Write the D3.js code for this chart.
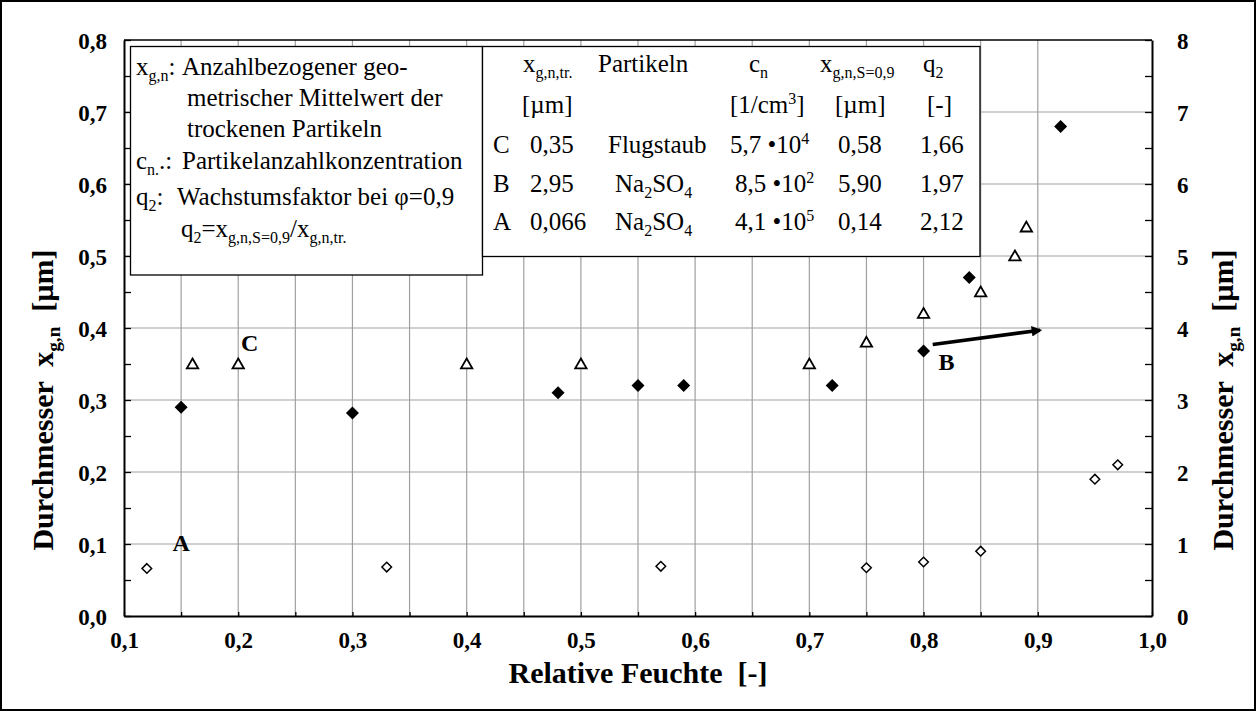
<!DOCTYPE html>
<html><head><meta charset="utf-8">
<script src="https://cdn.jsdelivr.net/npm/d3@7"></script>
<style>html,body{margin:0;padding:0;background:#fff}svg{display:block}svg text{white-space:pre}</style>
</head><body>
<svg id="c" width="1256" height="711"></svg>
<script>
// ---- data ----
const xTickVals = [0.1,0.2,0.3,0.4,0.5,0.6,0.7,0.8,0.9,1.0];
const yLeftTickVals = [0,0.1,0.2,0.3,0.4,0.5,0.6,0.7,0.8];
const yRightTickVals = [0,1,2,3,4,5,6,7,8];
// C: Flugstaub (triangles, left axis)
const rhC = [0.16,0.20,0.40,0.50,0.70,0.75,0.80,0.85,0.88,0.89];
const dC  = [0.35,0.35,0.35,0.35,0.35,0.38,0.42,0.45,0.50,0.54];
// B: Na2SO4 coarse (filled diamonds, right axis)
const rhB = [0.15,0.30,0.48,0.55,0.59,0.72,0.80,0.84,0.92];
const dB  = [2.90,2.82,3.10,3.20,3.20,3.20,3.68,4.70,6.80];
// A: Na2SO4 fine (open diamonds, left axis)
const rhA = [0.12,0.33,0.57,0.75,0.80,0.85,0.95,0.97];
const dA  = [0.066,0.068,0.069,0.067,0.075,0.090,0.19,0.21];
// series labels
const seriesLabels = ["A","B","C"];
const labelRH = [0.15,0.82,0.21];
const labelD  = [0.101,0.353,0.379];
// arrow for B (left-axis units)
const arrowRH = [0.808,0.902];
const arrowD  = [0.377,0.397];
// table
const tableIds   = ["C","B","A"];
const tableXtr   = ["0,35","2,95","0,066"];
const tableMat   = ["Flugstaub","Na2SO4","Na2SO4"];
const tableCnM   = ["5,7","8,5","4,1"];
const tableCnE   = ["4","2","5"];
const tableXs    = ["0,58","5,90","0,14"];
const tableQ2    = ["1,66","1,97","2,12"];

const SERIF = "'Liberation Serif','Times New Roman',serif";
const svg = d3.select("#c");
const W=1256,H=711;
const L=124,R=1152,T=40,B=616;
const x  = d3.scaleLinear().domain([0.1,1.0]).range([L,R]);
const yL = d3.scaleLinear().domain([0,0.8]).range([B,T]);
const yR = d3.scaleLinear().domain([0,8]).range([B,T]);
const comma = d => d3.format(".1f")(d).replace(".",",");

// outer border
svg.append("rect").attr("x",1).attr("y",1).attr("width",W-2).attr("height",H-2)
  .attr("fill","#fff").attr("stroke","#000").attr("stroke-width",2);

// grid
const xGrid = d3.range(3,19).map(i=>+(i*0.05).toFixed(2));
svg.append("g").selectAll("line").data(xGrid).join("line")
  .attr("x1",d=>x(d)).attr("x2",d=>x(d)).attr("y1",T).attr("y2",B)
  .attr("stroke","#a0a0a0").attr("stroke-width",1.2);
svg.append("g").selectAll("line").data(yLeftTickVals.slice(1,8)).join("line")
  .attr("x1",L).attr("x2",R).attr("y1",d=>yL(d)).attr("y2",d=>yL(d))
  .attr("stroke","#a0a0a0").attr("stroke-width",1.2);

// axes
const minorY = d3.range(0,17).map(i=>+(i*0.05).toFixed(2));
const gl = svg.append("g").attr("transform",`translate(${L},0)`)
  .call(d3.axisLeft(yL).tickValues(minorY).tickSize(-7).tickSizeOuter(0).tickPadding(17)
    .tickFormat(d=> yLeftTickVals.some(v=>Math.abs(v-d)<1e-9)? comma(d):""));
const minorR = d3.range(0,17).map(i=>i*0.5);
const gr = svg.append("g").attr("transform",`translate(${R},0)`)
  .call(d3.axisRight(yR).tickValues(minorR).tickSize(-7).tickSizeOuter(0).tickPadding(25)
    .tickFormat(d=> yRightTickVals.includes(d)? String(d):""));
const gb = svg.append("g").attr("transform",`translate(0,${B})`)
  .call(d3.axisBottom(x).tickValues(xGrid.concat([0.1,1.0])).tickSize(-4).tickSizeOuter(0).tickPadding(16)
    .tickFormat(d=> xTickVals.some(v=>Math.abs(v-d)<1e-9)? comma(d):""));
[gl,gr,gb].forEach(g=>{
  g.select(".domain").attr("stroke","#000").attr("stroke-width",2);
  g.selectAll(".tick line").attr("stroke","#000").attr("stroke-width",1.3);
  g.selectAll("text").attr("font-family",SERIF).attr("font-weight","bold").attr("font-size",23).attr("fill","#000");
});
gl.selectAll("text").attr("dy","0.35em");
gr.selectAll("text").attr("dy","0.35em");
// top frame
svg.append("line").attr("x1",L).attr("x2",R).attr("y1",T).attr("y2",T).attr("stroke","#000").attr("stroke-width",1.5);

// rich text helper
function rich(x0,y0,parts,fs,opts={}){
  const t = svg.append("text").attr("x",x0).attr("y",y0)
    .attr("font-family",SERIF).attr("font-size",fs).attr("fill","#000");
  if(opts.bold) t.attr("font-weight","bold");
  if(opts.anchor) t.attr("text-anchor",opts.anchor);
  if(opts.transform) t.attr("transform",opts.transform);
  let shift=0;
  parts.forEach(p=>{
    const [s,k]= Array.isArray(p)?p:[p,"n"];
    const target = k==="sub"? fs*0.22 : k==="sup"? -fs*0.38 : 0;
    t.append("tspan").attr("dy",target-shift).attr("font-size",k==="n"?fs:fs*0.64).text(s);
    shift=target;
  });
  return t;
}
function chem(s){ // Na2SO4 -> parts
  return s==="Na2SO4" ? ["Na",["2","sub"],"SO",["4","sub"]] : [s];
}

// legend box (left)
svg.append("rect").attr("x",130.5).attr("y",46.5).attr("width",352).attr("height",228.5)
  .attr("fill","#fff").attr("stroke","#000").attr("stroke-width",1.3);
const FS=25;
rich(136,75,["x",["g,n","sub"],":"],FS);
rich(182,75,["Anzahlbezogener geo-"],FS);
rich(187,106,["metrischer Mittelwert der"],FS);
rich(187,137,["trockenen Partikeln"],FS);
rich(136,169,["c",["n.","sub"],".:"],FS);
rich(182,169,["Partikelanzahlkonzentration"],FS);
rich(136,205,["q",["2","sub"],":"],FS);
rich(177,205,["Wachstumsfaktor bei φ=0,9"],FS);
rich(181,237,["q",["2","sub"],"=x",["g,n,S=0,9","sub"],"/x",["g,n,tr.","sub"]],FS);

// table box
svg.append("rect").attr("x",482.5).attr("y",46.5).attr("width",497.5).attr("height",210)
  .attr("fill","#fff").attr("stroke","#000").attr("stroke-width",1.3);
rich(523,72,["x",["g,n,tr.","sub"]],FS);
rich(598,72,["Partikeln"],FS);
rich(749,72,["c",["n","sub"]],FS);
rich(820,72,["x",["g,n,S=0,9","sub"]],FS);
rich(923,72,["q",["2","sub"]],FS);
rich(522,113,["[µm]"],FS);
rich(730,113,["[1/cm",["3","sup"],"]"],FS);
rich(835,113,["[µm]"],FS);
rich(927,113,["[-]"],FS);
const rowY=[153,192,230];
tableIds.forEach((id,i)=>{
  const y=rowY[i];
  rich(493,y,[id],FS);
  rich(530,y,[tableXtr[i]],FS);
  rich(tableMat[i]==="Flugstaub"?608:615,y,chem(tableMat[i]),FS);
  rich(i===0?730:735,y,[tableCnM[i]+" •10",[tableCnE[i],"sup"]],FS);
  rich(838,y,[tableXs[i]],FS);
  rich(920,y,[tableQ2[i]],FS);
});

// markers
const tri = d3.symbol().type(d3.symbolTriangle).size(56);
svg.append("g").selectAll("path").data(rhC.map((r,i)=>[r,dC[i]])).join("path")
  .attr("d",tri).attr("transform",d=>`translate(${x(d[0])},${yL(d[1])+1})`)
  .attr("fill","#fff").attr("stroke","#000").attr("stroke-width",1.8);
const dia = (s)=>`M0,${-s}L${s},0L0,${s}L${-s},0Z`;
svg.append("g").selectAll("path").data(rhB.map((r,i)=>[r,dB[i]])).join("path")
  .attr("d",dia(6.5)).attr("transform",d=>`translate(${x(d[0])},${yR(d[1])})`)
  .attr("fill","#000");
svg.append("g").selectAll("path").data(rhA.map((r,i)=>[r,dA[i]])).join("path")
  .attr("d",dia(4.8)).attr("transform",d=>`translate(${x(d[0])},${yL(d[1])})`)
  .attr("fill","#fff").attr("stroke","#000").attr("stroke-width",1.5);

// arrow
svg.append("defs").append("marker").attr("id","ah").attr("viewBox","0 0 10 10")
  .attr("refX",8).attr("refY",5).attr("markerWidth",4).attr("markerHeight",3)
  .attr("orient","auto").attr("markerUnits","strokeWidth")
  .append("path").attr("d","M0,0L10,5L0,10Z").attr("fill","#000");
svg.append("line").attr("x1",x(arrowRH[0])).attr("y1",yL(arrowD[0]))
  .attr("x2",x(arrowRH[1])).attr("y2",yL(arrowD[1]))
  .attr("stroke","#000").attr("stroke-width",3.5).attr("marker-end","url(#ah)");

// series labels
seriesLabels.forEach((s,i)=>{
  rich(x(labelRH[i]),yL(labelD[i]),[s],24,{bold:true,anchor:"middle"}).attr("dominant-baseline","central");
});

// axis titles
rich(638,683,["Relative Feuchte  [-]"],30,{bold:true,anchor:"middle"});
const yTitle = ["Durchmesser  x",["g,n","sub"],"  [µm]"];
rich(0,0,yTitle,30,{bold:true,anchor:"middle",transform:`translate(53,400) rotate(-90)`});
rich(0,0,yTitle,30,{bold:true,anchor:"middle",transform:`translate(1233,400) rotate(-90)`});
</script>
</body></html>
